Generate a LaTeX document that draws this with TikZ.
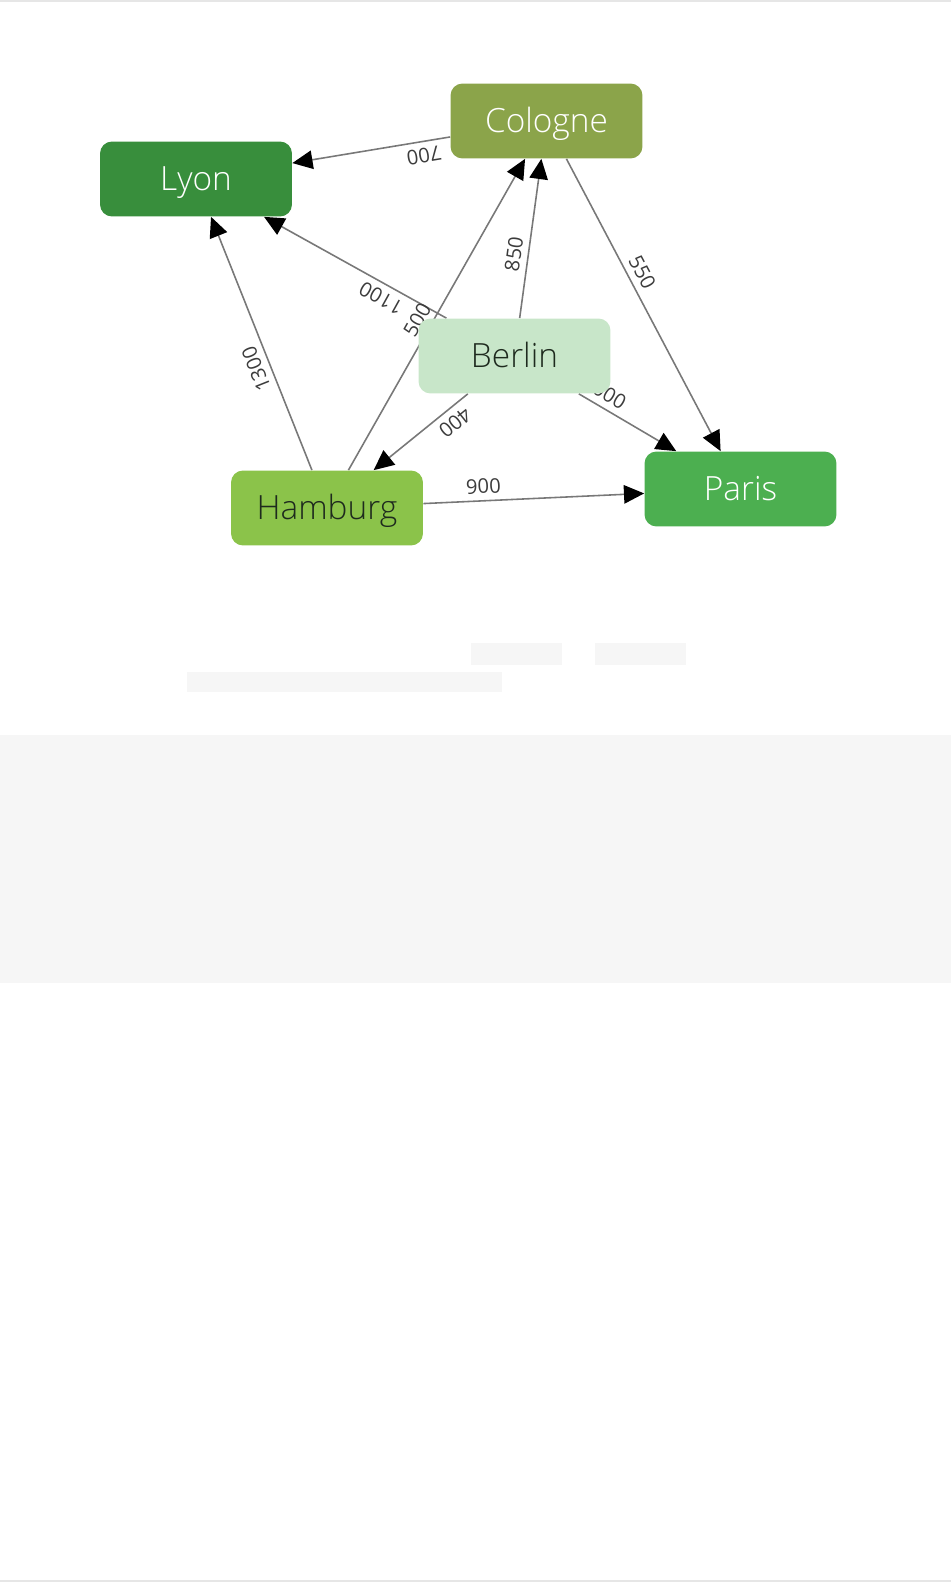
\documentclass[tikz,border=0pt]{standalone}
\usepackage{fontspec}
\setmainfont{Open Sans}
\newfontfamily\citylight{Open Sans Light}
\usepackage{tikz}
\usetikzlibrary{arrows.meta,positioning,backgrounds}
\definecolor{colognegreen}{RGB}{139,164,74}
\definecolor{lyongreen}{RGB}{56,142,60}
\definecolor{parisgreen}{RGB}{76,175,80}
\definecolor{hamburggreen}{RGB}{139,195,74}
\definecolor{berlingreen}{RGB}{200,230,201}
\definecolor{edgegray}{RGB}{120,120,120}
\definecolor{labelgray}{RGB}{60,60,60}
\definecolor{panelgray}{RGB}{246,246,246}
\definecolor{rulegray}{RGB}{230,230,230}
\definecolor{darktext}{RGB}{30,42,30}

\begin{document}
\begin{tikzpicture}[
        x=0.02cm, y=-0.02cm,
        city/.style={rectangle, rounded corners=0.24cm, fill=#1, text=white,
            minimum width=3.84cm,
            minimum height=1.5cm,
            text height=13.5pt, text depth=0pt,
            inner sep=0pt, align=center, font=\citylight\fontsize{19}{22}\selectfont},
        road/.style={draw=edgegray, line width=0.9pt,
            -{Triangle[length=11.5pt,width=10.5pt,color=black]}},
        dist/.style={sloped, allow upside down, above, inner sep=3.5pt,
            text=labelgray, font=\fontsize{11.5}{13}\selectfont}
    ]
        \useasboundingbox (0,0) rectangle (951,1582);

        % Cities
        \node[city=colognegreen] (cologne) at (546.5,121) {Cologne};
        \node[city=lyongreen] (lyon) at (196,179) {Lyon};
        \node[city=berlingreen, text=darktext] (berlin) at (514.5,356) {Berlin};
        \node[city=hamburggreen, text=darktext] (hamburg) at (327,508) {Hamburg};
        \node[city=parisgreen] (paris) at (740.5,489) {Paris};

        \begin{scope}[on background layer]
            % Page rules and placeholder blocks
            \fill[rulegray] (0,0) rectangle (951,2);
            \fill[rulegray] (0,1580) rectangle (951,1582);
            \fill[panelgray] (471,643) rectangle (562,665);
            \fill[panelgray] (595,643) rectangle (686,665);
            \fill[panelgray] (187,672) rectangle (502,692);
            \fill[panelgray] (0,735) rectangle (951,983);

            % Roads
            \draw[road] (cologne) -- node[dist, pos=0.18] {700} (lyon);
            \draw[road] (cologne) -- node[dist, pos=0.41] {550} (paris);
            \draw[road] (berlin) -- node[dist, pos=0.39] {850} (cologne);
            \draw[road] (berlin) -- node[dist, pos=0.32] {1100} (lyon);
            \draw[road] (hamburg) -- node[dist, pos=0.46] {500} (cologne);
            \draw[road] (hamburg) -- node[dist, pos=0.42] {1300} (lyon);
            \draw[road] (berlin) -- node[dist, pos=0.23] {400} (hamburg);
            \draw[road] (berlin) -- node[dist, pos=0.19] {1000} (paris);
            \draw[road] (hamburg) -- node[dist, pos=0.275] {900} (paris);
        \end{scope}
    \end{tikzpicture}
\end{document}
